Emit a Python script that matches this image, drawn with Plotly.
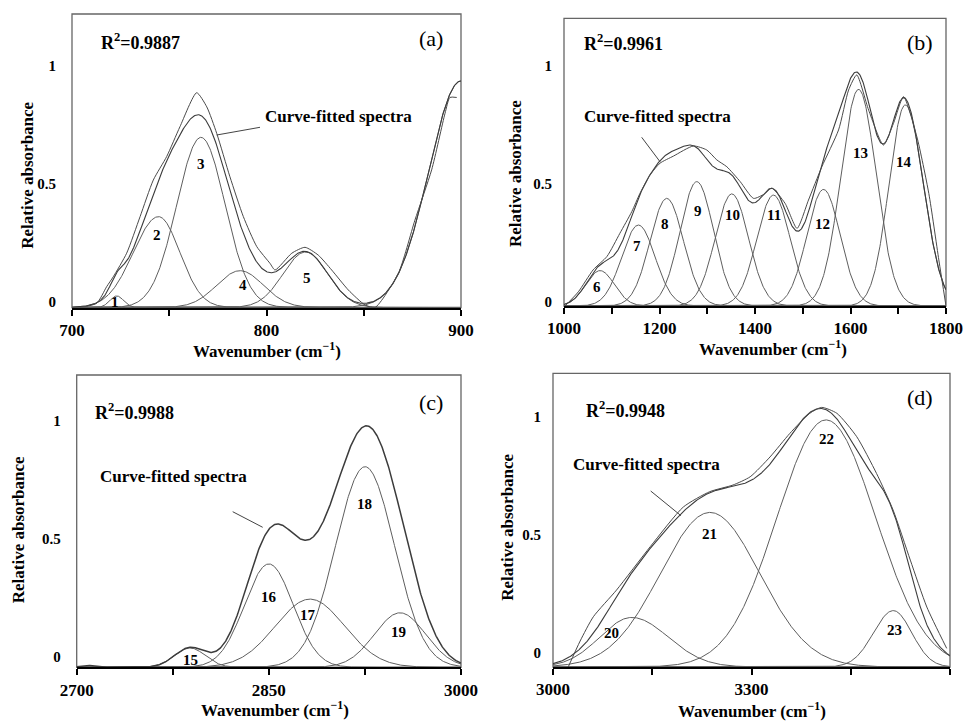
import numpy as np
import plotly.graph_objects as go

W, H = 963, 722

# ---------------- data ----------------
# Panel (a)  700-900 cm-1
a_center = [723.0, 744.5, 766.3, 786.4, 820.0, 900.0]
a_height = [0.049, 0.385, 0.721, 0.156, 0.235, 0.96]
a_sig_l = [3.5, 13.0, 12.4, 12.0, 11.5, 16.5]
a_sig_r = [3.5, 11.0, 12.4, 12.0, 11.5, 16.5]
a_label = ["1", "2", "3", "4", "5"]
a_label_x = [722.1, 743.5, 766.2, 787.9, 820.8]
a_label_y = [0.024, 0.306, 0.61, 0.095, 0.127]
a_exp_x = [704.1, 712.7, 717.8, 721.2, 728.1, 735.0, 741.8, 748.7, 755.5, 764.1, 769.3, 774.4,
           781.2, 788.1, 795.0, 801.8, 804.4, 813.0, 819.8, 826.6, 833.5, 842.1, 850.6, 855.8,
           867.8, 876.3, 884.9, 891.8, 894.3, 897.8]
a_exp_y = [0.0, 0.018, 0.088, 0.13, 0.23, 0.385, 0.54, 0.64, 0.766, 0.91, 0.85, 0.738,
           0.554, 0.385, 0.258, 0.187, 0.159, 0.23, 0.255, 0.222, 0.159, 0.074, 0.011, 0.0,
           0.145, 0.37, 0.583, 0.823, 0.89, 0.89]

# Panel (b)  1000-1800 cm-1
b_center = [1075.5, 1155.8, 1215.2, 1278.1, 1351.5, 1438.7, 1543.5, 1616.9, 1714.7]
b_height = [0.15, 0.343, 0.456, 0.527, 0.475, 0.47, 0.494, 0.918, 0.852]
b_sig_l = [30, 35, 35, 35, 35, 35, 35, 37, 34]
b_sig_r = [30, 35, 35, 35, 35, 35, 35, 37, 38]
b_label = ["6", "7", "8", "9", "10", "11", "12", "13", "14"]
b_label_x = [1069.9, 1152.3, 1211.7, 1281.6, 1352.8, 1438.8, 1541.5, 1620.4, 1712.7]
b_label_y = [0.082, 0.254, 0.347, 0.404, 0.384, 0.384, 0.347, 0.65, 0.609]
b_exp_x = [1002, 1030, 1061, 1090, 1117, 1142, 1159, 1180, 1201, 1229, 1271, 1299, 1320, 1341,
           1369, 1397, 1420, 1435, 1463, 1488, 1512, 1540, 1575, 1596, 1613, 1638, 1669, 1690,
           1711, 1739, 1764, 1785, 1800]
b_exp_y = [0.0, 0.06, 0.153, 0.21, 0.308, 0.40, 0.477, 0.555, 0.605, 0.635, 0.678, 0.661, 0.619,
           0.59, 0.527, 0.456, 0.475, 0.499, 0.435, 0.329, 0.449, 0.59, 0.746, 0.915, 0.979, 0.83,
           0.682, 0.774, 0.887, 0.717, 0.477, 0.195, 0.0]

# Panel (c)  2700-3000 cm-1
c_center = [2708.0, 2788.4, 2850.0, 2882.1, 2925.1, 2952.4]
c_height = [0.008, 0.082, 0.438, 0.289, 0.85, 0.231]
c_sig_l = [5, 12, 19, 27, 23, 20]
c_sig_r = [5, 12, 19, 27, 23, 20]
c_label = ["15", "16", "17", "18", "19"]
c_label_x = [2788.5, 2850.4, 2880.8, 2924.6, 2951.1]
c_label_y = [0.031, 0.297, 0.222, 0.69, 0.151]

# Panel (d)  3000-3600 cm-1
d_center = [3118.9, 3237.3, 3412.6, 3514.3]
d_height = [0.21, 0.655, 1.047, 0.239]
d_sig_l = [48, 75, 74, 30]
d_sig_r = [55, 75, 75, 28]
d_label = ["20", "21", "22", "23"]
d_label_x = [3088.9, 3236.4, 3413.1, 3516.7]
d_label_y = [0.144, 0.562, 0.965, 0.158]
d_exp_x = [3023, 3041, 3061, 3096, 3147, 3197, 3237, 3272, 3298, 3328, 3358, 3388, 3406, 3429,
           3459, 3489, 3514, 3540, 3565, 3595]
d_exp_y = [0.0, 0.11, 0.213, 0.326, 0.51, 0.678, 0.743, 0.771, 0.806, 0.89, 0.99, 1.075, 1.10,
           1.075, 0.976, 0.82, 0.665, 0.453, 0.254, 0.079]

r2_text = ["0.9887", "0.9961", "0.9988", "0.9948"]
panel_tag = ["(a)", "(b)", "(c)", "(d)"]
x_ranges = [(700, 900), (1000, 1800), (2700, 3000), (3000, 3600)]
x_major = [100, 200, 150, 300]
x_minor = [50, 100, 75, 150]

# ---------------- layout geometry (screen pixels) ----------------
frames = [  # left, right, top, bottom
    (72, 461, 14, 307.5),
    (564, 946, 18.3, 306),
    (76.7, 461, 375, 667.3),
    (553, 950, 373.3, 667),
]
PX_PER_UNIT = 236.0
label_shift = [-6, -4, -11, -14]
label_standoff = [15, 11, 15, 11]

SERIF = "Liberation Serif"
COMP = "#5e5e5e"
SUMC = "#3c3c3c"


def peak(x, c, h, sl, sr):
    s = np.where(x < c, sl, sr)
    return h * np.exp(-0.5 * ((x - c) / s) ** 2)


def px_x(px):
    return px / W


def px_y(py):
    return 1 - py / H


def pp(px, py):
    return px_x(px), px_y(py)


fig = go.Figure()

panels = [
    (a_center, a_height, a_sig_l, a_sig_r, a_label, a_label_x, a_label_y, a_exp_x, a_exp_y),
    (b_center, b_height, b_sig_l, b_sig_r, b_label, b_label_x, b_label_y, b_exp_x, b_exp_y),
    (c_center, c_height, c_sig_l, c_sig_r, c_label, c_label_x, c_label_y, None, None),
    (d_center, d_height, d_sig_l, d_sig_r, d_label, d_label_x, d_label_y, d_exp_x, d_exp_y),
]

annotations = []
shapes = []

for i, (cen, hei, sl, sr, lab, lx, ly, ex, ey) in enumerate(panels):
    xa = "x" if i == 0 else f"x{i+1}"
    ya = "y" if i == 0 else f"y{i+1}"
    lo, hi = x_ranges[i]
    xg = np.linspace(lo, hi, 700)
    total = np.zeros_like(xg)
    for c, h, s1, s2 in zip(cen, hei, sl, sr):
        yv = peak(xg, c, h, s1, s2)
        total += yv
        if h > 0.02:
            fig.add_trace(go.Scatter(x=xg, y=yv, mode="lines", xaxis=xa, yaxis=ya,
                                     line=dict(color=COMP, width=1), showlegend=False,
                                     hoverinfo="skip"))
    fig.add_trace(go.Scatter(x=xg, y=total, mode="lines", xaxis=xa, yaxis=ya,
                             line=dict(color=SUMC, width=1.5 if ex is None else 1.1),
                             showlegend=False, hoverinfo="skip"))
    if ex is not None:
        fig.add_trace(go.Scatter(x=ex, y=ey, mode="lines", xaxis=xa, yaxis=ya,
                                 line=dict(color="#4a4a4a", width=1, shape="spline",
                                           smoothing=0.6),
                                 showlegend=False, hoverinfo="skip"))
    for t, x0, y0 in zip(lab, lx, ly):
        annotations.append(dict(x=x0, y=y0, xref=xa, yref=ya, text=t, showarrow=False,
                                xanchor="center", yanchor="middle",
                                font=dict(family=SERIF, size=15, color="black", weight="bold")))

    L, R, T, B = frames[i]
    ymax = (B - T) / PX_PER_UNIT
    tickfont = dict(family=SERIF, size=17, color="black", weight="bold")
    xkey = "xaxis" if i == 0 else f"xaxis{i+1}"
    ykey = "yaxis" if i == 0 else f"yaxis{i+1}"
    fig.update_layout(**{
        xkey: dict(domain=[px_x(L), px_x(R)], range=[lo, hi], anchor=ya, tick0=lo,
                   dtick=x_major[i], ticks="outside", ticklen=6, tickwidth=1.5,
                   tickcolor="black", showline=True, linecolor="black", linewidth=2,
                   showgrid=False, zeroline=False, tickfont=tickfont, automargin=False,
                   ticklabelstandoff=0,
                   minor=dict(tick0=lo, dtick=x_minor[i], ticks="outside", ticklen=6,
                              tickwidth=1.5, tickcolor="black", showgrid=False)),
        ykey: dict(domain=[px_y(B), px_y(T)], range=[0, ymax], anchor=xa,
                   tickvals=[0, 0.5, 1], ticktext=["0", "0.5", "1"], ticks="",
                   showline=False, showgrid=False, zeroline=False, automargin=False,
                   tickfont=dict(family=SERIF, size=15, color="black", weight="bold"),
                   ticklabelshift=label_shift[i], ticklabelstandoff=label_standoff[i]),
    })
    # frame
    shapes.append(dict(type="rect", xref=f"{xa} domain", yref=f"{ya} domain",
                       x0=0, x1=1, y0=0, y1=1, line=dict(color="#666666", width=1.3),
                       layer="below"))

# ---------------- text placed by screen-pixel position ----------------
r2_pos = [(99.3, 41.7), (581.7, 42.3), (93.3, 411.7), (584, 409.3)]
tag_pos = [(430.7, 38.3), (920, 42.7), (430.7, 402.7), (920, 397.7)]
cfs_pos = [(263, 116), (581.7, 116.7), (97.7, 476), (570.7, 464)]
lead = [((216.7, 135), (260, 127.3)), ((641.7, 137.3), (660, 161.7)),
        ((232.7, 511.7), (262.7, 527.3)), ((650.7, 491), (681, 515.7))]
xt_pos = [(267, 350), (773, 348), (275, 709), (752, 710)]
yt_pos = [(26.7, 175), (515, 174), (18.3, 530), (506.7, 527)]

for i in range(4):
    x0, y0 = pp(*r2_pos[i])
    annotations.append(dict(x=x0, y=y0, xref="paper", yref="paper", xanchor="left",
                            yanchor="middle", showarrow=False,
                            text=f"R<sup>2</sup>={r2_text[i]}",
                            font=dict(family=SERIF, size=18, color="black", weight="bold")))
    x0, y0 = pp(*tag_pos[i])
    annotations.append(dict(x=x0, y=y0, xref="paper", yref="paper", showarrow=False,
                            xanchor="center", yanchor="middle", text=panel_tag[i],
                            font=dict(family=SERIF, size=22, color="black")))
    x0, y0 = pp(*cfs_pos[i])
    annotations.append(dict(x=x0, y=y0, xref="paper", yref="paper", xanchor="left",
                            yanchor="middle", showarrow=False, text="Curve-fitted spectra",
                            font=dict(family=SERIF, size=17, color="black", weight="bold")))
    (p1, p2) = lead[i]
    a1, b1 = pp(*p1)
    a2, b2 = pp(*p2)
    shapes.append(dict(type="line", xref="paper", yref="paper", x0=a1, y0=b1, x1=a2, y1=b2,
                       line=dict(color="#444444", width=1)))
    x0, y0 = pp(*xt_pos[i])
    annotations.append(dict(x=x0, y=y0, xref="paper", yref="paper", showarrow=False,
                            xanchor="center", yanchor="middle",
                            text="Wavenumber (cm<sup>\u22121</sup>)",
                            font=dict(family=SERIF, size=17, color="black", weight="bold")))
    x0, y0 = pp(*yt_pos[i])
    annotations.append(dict(x=x0, y=y0, xref="paper", yref="paper", showarrow=False,
                            xanchor="center", yanchor="middle",
                            text="Relative absorbance", textangle=-90,
                            font=dict(family=SERIF, size=17, color="black", weight="bold")))

fig.update_layout(width=W, height=H, margin=dict(l=0, r=0, t=0, b=0),
                  paper_bgcolor="white", plot_bgcolor="rgba(0,0,0,0)",
                  annotations=annotations, shapes=shapes, showlegend=False)

fig.write_html("out.html", config={"displayModeBar": False},
               post_script="document.body.style.margin='0px';")
